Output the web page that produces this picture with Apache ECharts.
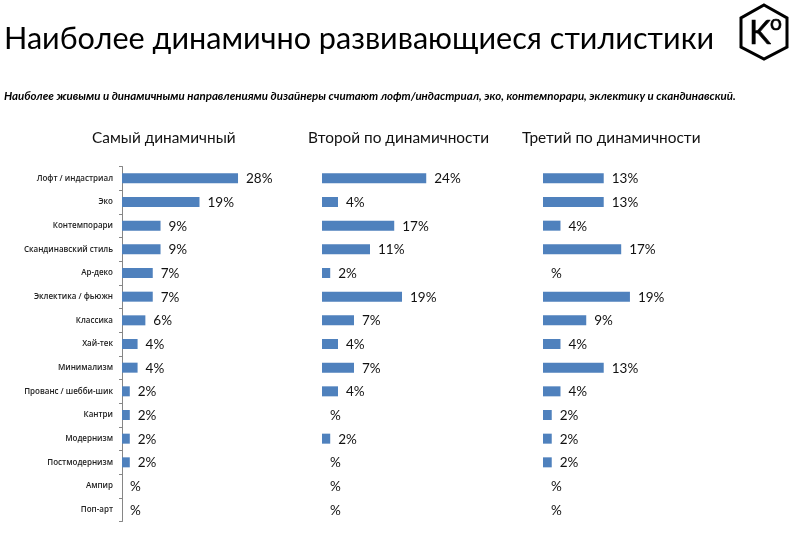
<!DOCTYPE html>
<html>
<head>
<meta charset="utf-8">
<title>Наиболее динамично развивающиеся стилистики</title>
<style>
html, body { margin: 0; padding: 0; background: #fff; }
#chart { width: 790px; height: 540px; }
</style>
<script src="https://cdn.jsdelivr.net/npm/echarts@6/dist/echarts.min.js"></script>
</head>
<body>
<div id="chart"></div>
<script>
var categories = ['Лофт / индастриал', 'Эко', 'Контемпорари', 'Скандинавский стиль', 'Ар-деко',
    'Эклектика / фьюжн', 'Классика', 'Хай-тек', 'Минимализм', 'Прованс / шебби-шик',
    'Кантри', 'Модернизм', 'Постмодернизм', 'Ампир', 'Поп-арт'];

// bar lengths, labels as printed (blank rows just say "%")
var firstValues  = [28.3, 18.9, 9.4, 9.4, 7.5, 7.5, 5.7, 3.8, 3.8, 1.9, 1.9, 1.9, 1.9, 0, 0];
var firstLabels  = ['28%', '19%', '9%', '9%', '7%', '7%', '6%', '4%', '4%', '2%', '2%', '2%', '2%', '%', '%'];
var secondValues = [24.1, 3.7, 16.7, 11.1, 1.9, 18.5, 7.4, 3.7, 7.4, 3.7, 0, 1.9, 0, 0, 0];
var secondLabels = ['24%', '4%', '17%', '11%', '2%', '19%', '7%', '4%', '7%', '4%', '%', '2%', '%', '%', '%'];
var thirdValues  = [13.2, 13.2, 3.8, 17, 0, 18.9, 9.4, 3.8, 13.2, 3.8, 1.9, 1.9, 1.9, 0, 0];
var thirdLabels  = ['13%', '13%', '4%', '17%', '%', '19%', '9%', '4%', '13%', '4%', '2%', '2%', '2%', '%', '%'];

var panelTitles = ['Самый динамичный', 'Второй по динамичности', 'Третий по динамичности'];
var mainTitle = 'Наиболее динамично развивающиеся стилистики';
var subTitle = 'Наиболее живыми и динамичными направлениями дизайнеры считают лофт/индастриал, эко, контемпорари, эклектику и скандинавский.';

var chart = echarts.init(document.getElementById('chart'), null, {renderer: 'canvas'});

var grids = [
    {left: 122, top: 166.5, width: 164, height: 355},
    {left: 322, top: 166.5, width: 173, height: 355},
    {left: 543, top: 166.5, width: 184, height: 355}
];

function makeSeries(values, labels, idx) {
    return {
        type: 'bar',
        xAxisIndex: idx,
        yAxisIndex: idx,
        data: values,
        barWidth: 10,
        silent: true,
        itemStyle: {color: '#4f81bd'},
        label: {
            show: true,
            position: 'right',
            distance: 8,
            offset: [0, 0.5],
            fontFamily: 'Lato',
            fontSize: 13.5,
            color: '#111',
            formatter: function (p) { return labels[p.dataIndex]; }
        }
    };
}

function panelTitle(text, x) {
    return {
        text: text, left: x, top: 131, padding: 0,
        textStyle: {fontFamily: 'Lato', fontSize: 15.4, fontWeight: 'normal', color: '#111'}
    };
}

var option = {
    animation: false,
    backgroundColor: '#fff',
    title: [
        {text: mainTitle, left: 4, top: 24, padding: 0, textStyle: {fontFamily: 'Lato', fontSize: 30.6, fontWeight: 'normal', color: '#000'}},
        {text: subTitle, left: 4, top: 90, padding: 0, textStyle: {fontFamily: 'Lato', fontSize: 11.5, fontWeight: 'bold', fontStyle: 'italic', color: '#000'}},
        panelTitle(panelTitles[0], 92),
        panelTitle(panelTitles[1], 308),
        panelTitle(panelTitles[2], 522)
    ],
    grid: grids,
    xAxis: grids.map(function (g, i) {
        return {type: 'value', gridIndex: i, min: 0, max: 40, show: false};
    }),
    yAxis: grids.map(function (g, i) {
        return {
            type: 'category',
            gridIndex: i,
            inverse: true,
            data: categories,
            show: i === 0,
            axisLine: {show: true, lineStyle: {color: '#868686', width: 1}},
            axisTick: {show: true, length: 3, lineStyle: {color: '#868686'}},
            axisLabel: {fontFamily: 'Open Sans', fontSize: 8, fontWeight: 600, color: '#222', margin: 9, interval: 0}
        };
    }),
    series: [
        makeSeries(firstValues, firstLabels, 0),
        makeSeries(secondValues, secondLabels, 1),
        makeSeries(thirdValues, thirdLabels, 2)
    ],
    // logo in the top right corner
    graphic: [
        {
            type: 'polygon',
            shape: {points: [[764, 5], [787, 18], [787, 47], [764, 59], [741, 47], [741, 18]]},
            style: {fill: 'none', stroke: '#000', lineWidth: 3}
        },
        {type: 'text', x: 749, y: 17, style: {text: 'K', fontFamily: 'Lato', fontSize: 33, fill: '#000', stroke: '#000', lineWidth: 0.6}},
        {type: 'text', x: 770, y: 13, style: {text: 'o', fontFamily: 'Lato', fontSize: 21, fill: '#000', stroke: '#000', lineWidth: 0.6}}
    ]
};

chart.setOption(option);
</script>
</body>
</html>
